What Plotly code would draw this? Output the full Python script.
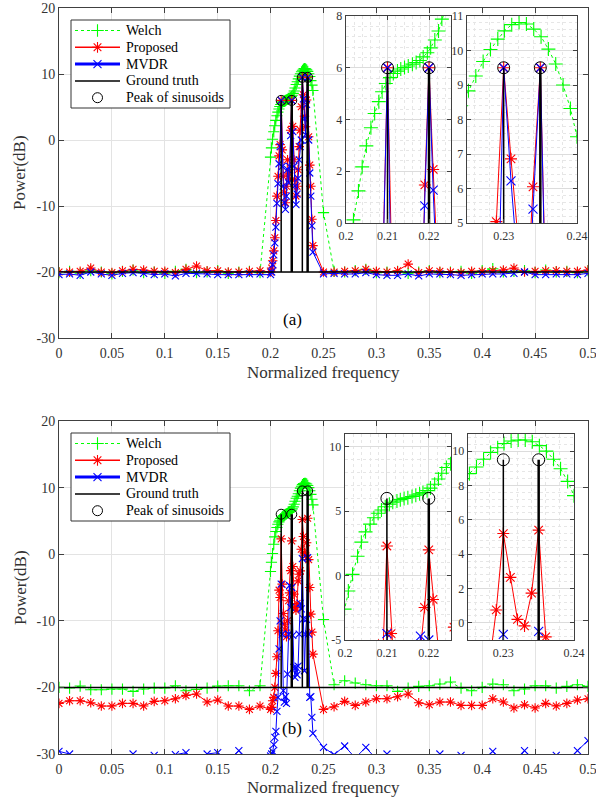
import plotly.graph_objects as go

W, H = 596, 802

# ---------------- data ----------------
coarse_freq_left = [0.00, 0.01, 0.02, 0.03, 0.04, 0.05, 0.06, 0.07, 0.08, 0.09,
                    0.10, 0.11, 0.12, 0.13, 0.14, 0.15, 0.16, 0.17, 0.18, 0.19]
coarse_freq_right = [0.26, 0.27, 0.28, 0.29, 0.30, 0.31, 0.32, 0.33, 0.34, 0.35,
                     0.36, 0.37, 0.38, 0.39, 0.40, 0.41, 0.42, 0.43, 0.44, 0.45,
                     0.46, 0.47, 0.48, 0.49, 0.50]

welch_dense_freq = [0.1999, 0.2008, 0.2018, 0.2030, 0.2039, 0.2049, 0.2060, 0.2069,
                    0.2079, 0.2087, 0.2096, 0.2106, 0.2114, 0.2124, 0.2132, 0.2141,
                    0.2150, 0.2160, 0.2169, 0.2178, 0.2186, 0.2196, 0.2204, 0.2214,
                    0.2223, 0.2231, 0.2242, 0.2252, 0.2262, 0.2272, 0.2282, 0.2292,
                    0.2301, 0.2311, 0.2321, 0.2331, 0.2341, 0.2351, 0.2361, 0.2371,
                    0.2381, 0.2391, 0.2400, 0.2500]

dense_freq = [0.200, 0.201, 0.202, 0.203, 0.204, 0.205, 0.206, 0.207, 0.208, 0.209,
              0.210, 0.211, 0.212, 0.213, 0.214, 0.215, 0.216, 0.217, 0.218, 0.219,
              0.220, 0.221, 0.222, 0.223, 0.224, 0.225, 0.226, 0.227, 0.228, 0.229,
              0.230, 0.231, 0.232, 0.233, 0.234, 0.235, 0.236, 0.237, 0.238, 0.239,
              0.240, 0.250]

# ---- panel (a) ----
welch_a_left = [-20.1, -19.9, -20.2, -19.8, -20.0, -20.3, -19.9, -19.7, -20.1, -20.0,
                -20.2, -19.9, -19.6, -20.1, -20.0, -19.8, -20.2, -20.0, -19.9, -20.1]
welch_a_dense = [-2.6, -1.2, 0.12, 1.24, 2.17, 2.98, 3.68, 4.23, 4.69, 5.07,
                 5.39, 5.62, 5.78, 5.87, 5.95, 6.01, 6.07, 6.14, 6.20, 6.28,
                 6.42, 6.58, 6.77, 7.07, 7.42, 7.88, 8.40, 8.83, 9.26, 9.68,
                 10.03, 10.33, 10.57, 10.75, 10.81, 10.77, 10.62, 10.40, 10.04, 9.61,
                 9.00, 8.32, 7.50, -11.0]
welch_a_right = [-19.9, -20.0, -19.8, -19.6, -20.1, -20.0, -19.9, -20.2, -20.0, -19.8,
                 -20.1, -20.0, -19.9, -20.2, -19.8, -19.5, -20.0, -19.9, -19.8, -20.1,
                 -19.7, -20.0, -19.9, -20.1, -19.8]

prop_a_left = [-20.0, -20.0, -19.9, -19.4, -20.0, -20.1, -19.8, -19.6, -19.7, -19.9,
               -19.9, -20.1, -19.6, -19.1, -19.8, -19.8, -20.0, -20.0, -19.9, -19.8]
prop_a_dense = [-20.0, -19.4, -18.3, -16.8, -14.8, -12.2, -8.5, -5.5, -2.4, -0.7,
                6.0, -1.5, -5.5, -8.0, -9.5, -7.0, -3.0, -5.0, -5.9, 1.47,
                6.0, 2.07, -3.0, -6.0, -8.5, -7.0, -4.5, -1.0, 1.5, 5.04,
                9.5, 6.86, 3.6, 2.0, 6.05, 9.5, 0.5, -3.8, -7.0, -12.0,
                -16.0, -20.0]
prop_a_right = [-20.0, -19.9, -19.8, -19.6, -19.9, -20.0, -19.8, -18.8, -20.1, -19.8,
                -19.9, -20.0, -20.1, -19.9, -19.9, -19.8, -19.7, -19.4, -20.0, -19.9,
                -19.8, -19.8, -19.9, -19.9, -19.7]

mvdr_a_left = [-20.4, -20.3, -20.5, -20.0, -20.3, -20.5, -20.2, -20.1, -20.2, -20.4,
               -20.3, -20.6, -20.2, -20.2, -20.3, -20.4, -20.4, -20.4, -20.3, -20.3]
mvdr_a_dense = [-20.4, -20.0, -18.9, -17.4, -15.6, -13.2, -9.6, -6.6, -3.6, -1.0,
                6.0, -4.0, -7.0, -9.5, -10.5, -8.5, -4.5, -6.5, -4.0, 0.66,
                6.0, 1.27, -4.0, -7.0, -9.8, -8.2, -5.8, -3.0, -1.0, 0.0,
                9.5, 6.22, 3.2, 0.8, 5.4, 9.5, 0.0, -5.0, -8.5, -13.0,
                -17.0, -20.3]
mvdr_a_right = [-20.2, -20.3, -20.3, -20.1, -20.4, -20.5, -20.5, -20.3, -20.6, -20.3,
                -20.3, -20.4, -20.5, -20.4, -20.3, -20.3, -20.3, -20.2, -20.0, -20.4,
                -20.4, -20.3, -20.3, -20.4, -20.2]

# ---- panel (b) ----
welch_b_left = [-20.0, -20.1, -19.8, -20.35, -20.35, -20.25, -20.25, -20.6, -20.25, -20.1,
                -20.1, -19.75, -20.5, -20.3, -20.1, -19.8, -19.75, -19.75, -20.5, -19.75]
welch_b_dense = [-2.6, -1.2, 0.1, 1.5, 2.6, 3.4, 4.0, 4.5, 4.85, 5.1,
                 5.35, 5.55, 5.7, 5.8, 5.9, 6.0, 6.05, 6.15, 6.25, 6.35,
                 6.45, 6.6, 6.8, 7.1, 7.5, 7.95, 8.4, 8.69, 9.08, 9.53,
                 9.92, 10.2, 10.45, 10.59, 10.65, 10.65, 10.55, 10.32, 10.0, 9.53,
                 8.98, 8.24, 7.41, -9.8]
welch_b_right = [-19.6, -19.0, -19.35, -19.6, -19.75, -19.75, -20.6, -20.1, -19.85, -19.75,
                 -19.5, -19.2, -20.1, -20.5, -20.0, -19.5, -19.6, -20.5, -20.25, -19.75,
                 -19.75, -20.1, -19.85, -19.6, -19.85]

prop_b_left = [-22.4, -22.0, -22.0, -22.3, -22.8, -22.8, -22.4, -22.4, -22.8, -22.1,
               -22.0, -21.7, -21.2, -21.0, -22.2, -21.9, -22.8, -22.8, -23.3, -22.8]
prop_b_dense = [-23.3, -23.0, -22.0, -21.5, -20.0, -17.9, -15.4, -11.5, -5.4, -6.5,
                2.3, -4.5, -8.9, -10.5, -11.4, -12.4, -10.0, -7.0, -5.8, -2.47,
                2.0, -1.85, -6.0, -8.0, -8.4, -7.4, -4.0, -3.0, -2.5, 0.75,
                5.2, 2.65, 0.2, -0.18, 1.73, 5.4, -0.82, -5.0, -9.0, -11.7,
                -15.0, -23.3]
prop_b_right = [-22.9, -22.1, -22.7, -22.2, -21.7, -21.7, -21.4, -21.0, -22.3, -22.6,
                -22.2, -22.2, -22.7, -22.7, -22.7, -21.7, -22.2, -23.1, -22.6, -23.1,
                -22.4, -22.8, -22.4, -21.9, -21.7]

mvdr_b_left = [-29.6, -30.0, -31.5, -32.0, -31.0, -31.8, -31.2, -30.0, -31.5, -30.2,
               -31.0, -30.1, -29.8, -31.2, -30.0, -29.8, -31.0, -29.5, -31.5, -31.0]
mvdr_b_dense = [-30.3, -30.0, -29.6, -28.6, -27.5, -26.6, -23.6, -21.5, -14.2, -10.0,
                -4.5, -12.0, -20.5, -22.2, -21.4, -22.4, -18.0, -12.0, -4.7, -8.0,
                -5.0, -12.2, -17.0, -18.5, -17.0, -18.1, -16.8, -12.0, -7.4, -8.2,
                -0.67, -9.7, -17.5, -12.0, -9.8, -0.5, -12.0, -21.5, -21.4, -24.5,
                -26.9, -29.0]
mvdr_b_right = [-30.1, -28.8, -30.6, -29.0, -30.8, -30.0, -31.5, -31.0, -32.0, -31.2,
                -30.0, -31.0, -30.2, -31.4, -31.0, -29.6, -31.3, -31.6, -29.5, -31.0,
                -31.8, -30.2, -31.2, -29.5, -28.0]

truth_freq = [0.21, 0.22, 0.23, 0.235]
truth_power = [6.0, 6.0, 9.5, 9.5]
truth_thick = [False, True, False, True]
truth_floor = -20.0

main_xticks = [0, 0.05, 0.1, 0.15, 0.2, 0.25, 0.3, 0.35, 0.4, 0.45, 0.5]
main_xtick_text = ["0", "0.05", "0.1", "0.15", "0.2", "0.25", "0.3", "0.35", "0.4", "0.45", "0.5"]
main_yticks = [-30, -20, -10, 0, 10, 20]
main_ytick_text = ["-30", "-20", "-10", "0", "10", "20"]

legend_names = ["Welch", "Proposed", "MVDR", "Ground truth", "Peak of sinusoids"]

# ---------------- styles ----------------
FONT = "'Liberation Serif', 'Times New Roman', Times, serif"
AX = "#404040"
TXT = "#333333"
GRID = "#e3e3e3"
GREEN, RED, BLUE = "#00ff00", "#ff0000", "#0000ff"

STYLE = {
    "Welch": dict(mode="lines+markers", line=dict(color=GREEN, width=1, dash="dot"),
                  marker=dict(symbol="cross-thin-open", size=8, color=GREEN,
                              line=dict(color=GREEN, width=1.1))),
    "Proposed": dict(mode="lines+markers", line=dict(color=RED, width=1),
                     marker=dict(symbol="asterisk-open", size=8, color=RED,
                                 line=dict(color=RED, width=1.1))),
    "MVDR": dict(mode="lines+markers", line=dict(color=BLUE, width=1),
                 marker=dict(symbol="x-thin-open", size=7, color=BLUE,
                             line=dict(color=BLUE, width=1.1))),
}


def px_x(v):
    return v / W


def px_y(v):
    return 1 - v / H


def join(left, dense_f, dense_v, right_v):
    return (coarse_freq_left + dense_f + coarse_freq_right,
            left + dense_v + right_v)


fig = go.Figure()


def add_panel(sets, axes_list):
    for i, (xa, ya) in enumerate(axes_list):
        big = i > 0
        for name, (sx, sy) in zip(["Welch", "Proposed", "MVDR"], sets):
            st = STYLE[name]
            mk = dict(st["marker"])
            if big:
                mk["size"] = mk["size"] + 2
            fig.add_trace(go.Scatter(x=sx, y=sy, xaxis=xa, yaxis=ya, mode=st["mode"],
                                     line=st["line"], marker=mk, showlegend=False,
                                     hoverinfo="skip"))
        tx, ty = [0, 0.5, None], [truth_floor, truth_floor, None]
        kx, ky = [], []
        for f, p, thick in zip(truth_freq, truth_power, truth_thick):
            if thick:
                kx += [f, f, None]
                ky += [truth_floor, p, None]
            else:
                tx += [f, f, None]
                ty += [truth_floor, p, None]
        fig.add_trace(go.Scatter(x=tx, y=ty, xaxis=xa, yaxis=ya, mode="lines",
                                 showlegend=False, line=dict(color="black", width=1.5),
                                 hoverinfo="skip"))
        fig.add_trace(go.Scatter(x=kx, y=ky, xaxis=xa, yaxis=ya, mode="lines",
                                 showlegend=False, line=dict(color="black", width=2.5),
                                 hoverinfo="skip"))
        fig.add_trace(go.Scatter(
            x=truth_freq, y=truth_power, xaxis=xa, yaxis=ya, mode="markers",
            showlegend=False, hoverinfo="skip",
            marker=dict(symbol="circle-open", size=12 if big else 10, color="black",
                        line=dict(color="black", width=1))))


sets_a = (
    (coarse_freq_left + welch_dense_freq + coarse_freq_right,
     welch_a_left + welch_a_dense + welch_a_right),
    join(prop_a_left, dense_freq, prop_a_dense, prop_a_right),
    join(mvdr_a_left, dense_freq, mvdr_a_dense, mvdr_a_right),
)
sets_b = (
    (coarse_freq_left + welch_dense_freq + coarse_freq_right,
     welch_b_left + welch_b_dense + welch_b_right),
    join(prop_b_left, dense_freq, prop_b_dense, prop_b_right),
    join(mvdr_b_left, dense_freq, mvdr_b_dense, mvdr_b_right),
)

add_panel(sets_a, [("x", "y"), ("x3", "y3"), ("x4", "y4")])
add_panel(sets_b, [("x2", "y2"), ("x5", "y5"), ("x6", "y6")])

# ---------------- hand-made legends (pixel overlay axes) ----------------
annotations = []


def add_legend(xa, ya, top):
    bx0, bx1, by0, by1 = 71, 230, top, top + 88
    fig.add_trace(go.Scatter(x=[bx0, bx1, bx1, bx0, bx0], y=[by0, by0, by1, by1, by0],
                             xaxis=xa, yaxis=ya, mode="lines", fill="toself",
                             fillcolor="white", line=dict(color="#333333", width=1),
                             showlegend=False, hoverinfo="skip"))
    for k, name in enumerate(legend_names):
        yy = top + 10.5 + k * 16.8
        if name in STYLE:
            st = STYLE[name]
            ln = dict(st["line"])
            mk = dict(st["marker"])
            mk["size"] = mk["size"] + 1
            if name == "MVDR":
                ln["width"] = 3
            if name == "Proposed":
                ln["width"] = 1.5
            fig.add_trace(go.Scatter(x=[75, 120], y=[yy, yy], xaxis=xa, yaxis=ya,
                                     mode="lines", line=ln, showlegend=False,
                                     hoverinfo="skip"))
            fig.add_trace(go.Scatter(x=[97.5], y=[yy], xaxis=xa, yaxis=ya, mode="markers",
                                     marker=mk, showlegend=False, hoverinfo="skip"))
        elif name == "Ground truth":
            fig.add_trace(go.Scatter(x=[75, 120], y=[yy, yy], xaxis=xa, yaxis=ya,
                                     mode="lines", line=dict(color="black", width=1.5),
                                     showlegend=False, hoverinfo="skip"))
        else:
            fig.add_trace(go.Scatter(x=[97.5], y=[yy], xaxis=xa, yaxis=ya, mode="markers",
                                     marker=dict(symbol="circle-open", size=10, color="black",
                                                 line=dict(color="black", width=1)),
                                     showlegend=False, hoverinfo="skip"))
        annotations.append(dict(text=name, x=px_x(124), y=px_y(yy), xref="paper",
                                yref="paper", xanchor="left", yanchor="middle",
                                showarrow=False,
                                font=dict(family=FONT, size=14, color="black")))


add_legend("x7", "y7", 20)
add_legend("x8", "y8", 433)


def main_x(anchor):
    return dict(domain=[px_x(59), px_x(588)], anchor=anchor, range=[0, 0.5],
                tickmode="array", tickvals=main_xticks, ticktext=main_xtick_text,
                ticks="inside", ticklen=5, tickcolor=AX, showline=True, linecolor=AX,
                linewidth=1, mirror="ticks", showgrid=True, gridcolor=GRID, zeroline=False,
                ticklabelstandoff=2, automargin=False, ticklabeloverflow="allow",
                tickfont=dict(family=FONT, size=14, color=TXT))


def main_y(top, bottom, anchor):
    return dict(domain=[px_y(bottom), px_y(top)], anchor=anchor, range=[-30, 20],
                tickmode="array", tickvals=main_yticks, ticktext=main_ytick_text,
                ticks="inside", ticklen=5, tickcolor=AX, showline=True, linecolor=AX,
                linewidth=1, mirror="ticks", showgrid=True, gridcolor=GRID, zeroline=False,
                automargin=False, ticklabeloverflow="allow",
                tickfont=dict(family=FONT, size=14, color=TXT))


def inset_x(left, right, rng, vals, anchor):
    return dict(domain=[px_x(left), px_x(right)], anchor=anchor, range=rng,
                tickmode="array", tickvals=vals, ticktext=[("%g" % v) for v in vals],
                ticks="inside", ticklen=4, tickcolor=AX, showline=True, linecolor=AX,
                linewidth=1.3, mirror="ticks", showgrid=True, gridcolor="#dcdcdc",
                zeroline=False, automargin=False, ticklabeloverflow="allow",
                ticklabelstandoff=1,
                tickfont=dict(family=FONT, size=12, color=TXT),
                minor=dict(showgrid=True, gridcolor="#e6e6e6", griddash="dot",
                           tickmode="linear", tick0=0.2, dtick=0.002, ticks=""))


def inset_y(top, bottom, rng, vals, minor_dt, anchor):
    return dict(domain=[px_y(bottom), px_y(top)], anchor=anchor, range=rng,
                tickmode="array", tickvals=vals, ticktext=[("%g" % v) for v in vals],
                ticks="inside", ticklen=4, tickcolor=AX, showline=True, linecolor=AX,
                linewidth=1.3, mirror="ticks", showgrid=True, gridcolor="#dcdcdc",
                zeroline=False, automargin=False, ticklabeloverflow="allow",
                tickfont=dict(family=FONT, size=12, color=TXT),
                minor=dict(showgrid=True, gridcolor="#e6e6e6", griddash="dot",
                           tickmode="linear", tick0=0, dtick=minor_dt, ticks=""))


def label(text, xp, yp, size=17, angle=0, color=TXT):
    return dict(text=text, x=px_x(xp), y=px_y(yp), xref="paper", yref="paper",
                xanchor="center", yanchor="middle", textangle=angle, showarrow=False,
                font=dict(family=FONT, size=size, color=color))


annotations += [
    label("Power(dB)", 20, 173, angle=-90),
    label("Power(dB)", 20, 588, angle=-90),
    label("Normalized frequency", 323, 373),
    label("Normalized frequency", 323, 787),
    label("(a)", 292, 319, color="black"),
    label("(b)", 292, 728, color="black"),
]

hidden = dict(visible=False, automargin=False)
fig.update_layout(
    width=W, height=H, margin=dict(l=0, r=0, t=0, b=0, autoexpand=False),
    paper_bgcolor="white", plot_bgcolor="white", showlegend=False,
    xaxis=main_x("y"), yaxis=main_y(8, 338, "x"),
    xaxis2=main_x("y2"), yaxis2=main_y(421, 754, "x2"),
    xaxis3=inset_x(346, 451, [0.2, 0.2253], [0.2, 0.21, 0.22], "y3"),
    yaxis3=inset_y(16, 223, [0, 8], [0, 2, 4, 6, 8], 0.4, "x3"),
    xaxis4=inset_x(467, 577, [0.225, 0.24], [0.23, 0.24], "y4"),
    yaxis4=inset_y(16, 223, [5, 11], [5, 6, 7, 8, 9, 10, 11], 0.2, "x4"),
    xaxis5=inset_x(345, 451, [0.2, 0.2253], [0.2, 0.21, 0.22], "y5"),
    yaxis5=dict(inset_y(434, 640, [-5, 11], [-5, 0, 5, 10], 1, "x5"),
                ticktext=["-5", "0", "5", "10"]),
    xaxis6=inset_x(468, 574, [0.225, 0.24], [0.23, 0.24], "y6"),
    yaxis6=inset_y(434, 640, [-1, 11], [0, 2, 4, 6, 8, 10], 0.4, "x6"),
    xaxis7=dict(hidden, overlaying="x", anchor="y7", range=[59, 588]),
    yaxis7=dict(hidden, overlaying="y", anchor="x7", range=[338, 8]),
    xaxis8=dict(hidden, overlaying="x2", anchor="y8", range=[59, 588]),
    yaxis8=dict(hidden, overlaying="y2", anchor="x8", range=[754, 421]),
    annotations=annotations,
)

fig.write_html("out.html",
               config={"displayModeBar": False, "staticPlot": True},
               post_script="document.body.style.margin='0';"
                           "document.body.style.overflow='hidden';")
